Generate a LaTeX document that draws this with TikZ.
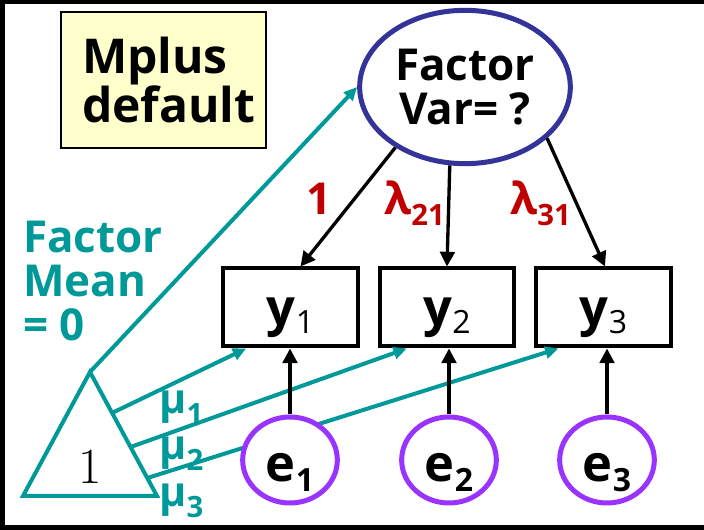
\documentclass[tikz,border=0pt]{standalone}
\usepackage{fontspec}
\newfontfamily\os{Open Sans}
\usetikzlibrary{arrows.meta,shapes.geometric,calc}
\definecolor{tealc}{RGB}{0,153,153}
\definecolor{redc}{RGB}{192,0,0}
\definecolor{bluec}{RGB}{51,51,153}
\definecolor{purc}{RGB}{153,51,255}
\definecolor{yelc}{RGB}{255,255,204}
\newcommand\fs[1]{\fontsize{#1}{#1}\selectfont}
\begin{document}
\begin{tikzpicture}[x=0.75pt,y=-0.75pt,
 obs/.style={draw, line width=3pt, minimum width=101pt, minimum height=58.5pt, inner sep=0pt, text height=27.75pt, text depth=0pt, font=\os\bfseries\fs{38pt}},
 err/.style={ellipse, draw=purc, fill=white, line width=3.75pt, minimum width=71pt, minimum height=64.5pt, inner sep=0pt, text height=33pt, text depth=0pt, font=\os\bfseries\fs{38pt}},
 load/.style={line width=2.5pt, -{Triangle[length=11pt,width=11pt]}},
 mean/.style={draw=tealc, line width=3pt, -{Triangle[length=10pt,width=9pt]}},
 redlab/.style={text=redc, font=\os\bfseries\fs{33pt}, inner sep=0pt},
 mulab/.style={text=tealc, font=\os\bfseries\fs{31pt}, inner sep=0pt, anchor=base west},
]
\useasboundingbox (0,0) rectangle (704,530);
\clip (0,0) rectangle (704,530);
\draw[line width=3.5pt] (2.5,2) rectangle (760,527.5);

% note box
\node (note) [draw, fill=yelc, line width=1.5pt, minimum width=153.75pt, minimum height=102pt,
  text width=122.25pt, inner xsep=15.75pt, align=left, font=\os\bfseries\fs{36pt}]
  at (163.5,80) {\baselineskip=41pt Mplus\\default};

% factor
\node (F) [ellipse, draw=bluec, fill=white, line width=3.75pt, minimum width=158pt, minimum height=115pt,
  inner sep=0pt, align=center, font=\os\bfseries\fs{33pt}] at (465,87) {\baselineskip=42pt Factor\\Var= ?};

% observed
\node[obs] (y1) at (290.5,307.5) {y\raisebox{-6pt}{\fs{24pt}\mdseries 1}};
\node[obs] (y2) at (447,307.5) {y\raisebox{-6pt}{\fs{24pt}\mdseries 2}};
\node[obs] (y3) at (603.5,307.5) {y\raisebox{-6pt}{\fs{24pt}\mdseries 3}};

% mean label
\node (fm) [anchor=north west, inner sep=0pt, align=left, text=tealc, font=\os\bfseries\fs{33pt}]
  at (23,221) {\baselineskip=43pt Factor\\Mean\\= 0};

% triangle
\coordinate (apex) at (90,372);
\coordinate (br) at (157,496);
\coordinate (bl) at (23,496);
\draw[tealc, line width=3pt, line join=miter] (apex) -- (br) -- (bl) -- cycle;
\node (one) [anchor=base, inner sep=0pt, font=\fs{38pt}] at (90,484) {1};

% mean arrows
\draw[mean] (apex) -- (F.west);
\draw[mean] ($(apex)!0.33!(br)$) -- ($(y1.south west)!0.18!(y1.south east)$);
\draw[mean] ($(apex)!0.605!(br)$) -- ($(y2.south west)!0.21!(y2.south east)$);
\draw[mean] ($(apex)!0.855!(br)$) -- ($(y3.south west)!0.175!(y3.south east)$);

% errors
\node[err] (e1) at (290,460) {e\raisebox{-7pt}{\fs{24pt}1}};
\node[err] (e2) at (449,460) {e\raisebox{-7pt}{\fs{24pt}2}};
\node[err] (e3) at (607,460) {e\raisebox{-7pt}{\fs{24pt}3}};

\draw[load] (e1.north) -- (e1.north |- y1.south);
\draw[load] (e2.north) -- (e2.north |- y2.south);
\draw[load] (e3.north) -- (e3.north |- y3.south);

% loadings
\draw[load] (F.221) -- ($(y1.north)+(10,0)$);
\draw[load] (F.259) -- (y2.north);
\draw[load] (F.328) -- ($(y3.north)+(1.5,0)$);

\node[redlab, anchor=base] (l11) at (319,215) {1};
\node[redlab, anchor=base west] (l21) at (384,215) {λ\raisebox{-8pt}{\fs{22pt}21}};
\node[redlab, anchor=base west] (l31) at (510,215) {λ\raisebox{-8pt}{\fs{22pt}31}};

\node[mulab] (m1) at (159,414) {μ\raisebox{-8pt}{\fs{22pt}1}};
\node[mulab] (m2) at (159,460) {μ\raisebox{-8pt}{\fs{22pt}2}};
\node[mulab] (m3) at (159,507) {μ\raisebox{-8pt}{\fs{22pt}3}};
\end{tikzpicture}
\end{document}
